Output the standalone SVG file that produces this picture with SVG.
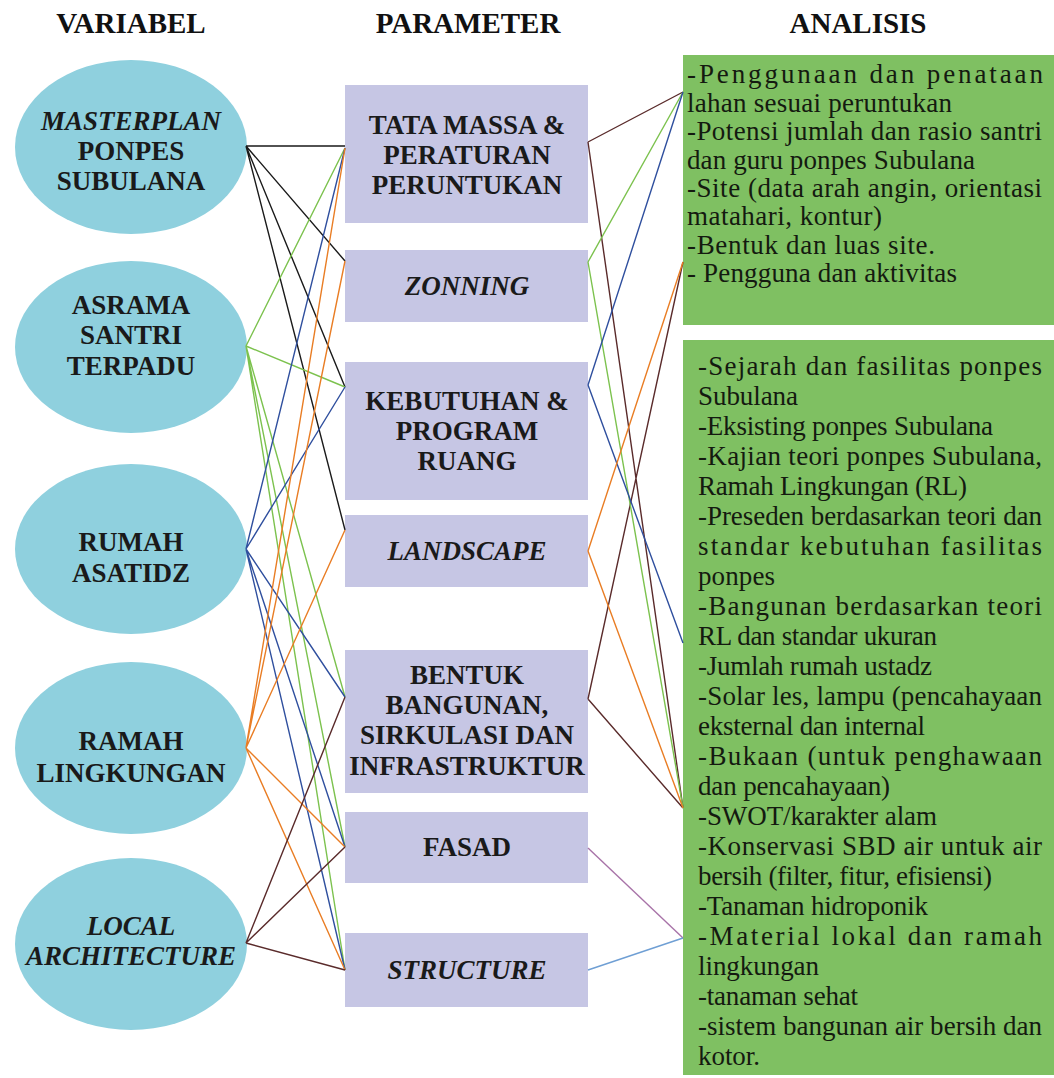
<svg xmlns="http://www.w3.org/2000/svg" width="1054" height="1078" viewBox="0 0 1054 1078">
<style>
.hdr{font-family:"Liberation Serif","Times New Roman",serif;font-weight:bold;font-size:29px;fill:#111;text-anchor:middle}
.ell{fill:#8fd0de}
.et{font-family:"Liberation Serif","Times New Roman",serif;font-weight:bold;font-size:27px;fill:#1a1a1a;text-anchor:middle}
.it{font-style:italic}
.box{fill:#c6c6e4}
.bt{font-family:"Liberation Serif","Times New Roman",serif;font-weight:bold;font-size:27px;fill:#1a1a1a;text-anchor:middle}
.an{fill:#7fc062}
.at{font-family:"Liberation Serif","Times New Roman",serif;font-size:27px;fill:#141a10}
.c{fill:none;stroke-width:1.4}
.k{stroke:#1a1a1a}.g{stroke:#7cc24e}.b{stroke:#2f4f9e}.o{stroke:#e97d24}.r{stroke:#5a2b2b}.p{stroke:#a873a8}.l{stroke:#6f9fd4}
</style>
<rect width="1054" height="1078" fill="#ffffff"/>
<g id="headers">
<text class="hdr" x="131" y="33">VARIABEL</text>
<text class="hdr" x="468" y="33">PARAMETER</text>
<text class="hdr" x="858" y="33">ANALISIS</text>
</g>
<g id="var-masterplan">
<ellipse class="ell" cx="131" cy="147" rx="116" ry="87"/>
<text class="et it" x="131" y="130">MASTERPLAN</text>
<text class="et" x="131" y="160">PONPES</text>
<text class="et" x="131" y="190">SUBULANA</text>
</g>
<g id="var-asrama">
<ellipse class="ell" cx="131" cy="347" rx="116" ry="86"/>
<text class="et" x="131" y="314">ASRAMA</text>
<text class="et" x="131" y="344">SANTRI</text>
<text class="et" x="131" y="375">TERPADU</text>
</g>
<g id="var-rumah">
<ellipse class="ell" cx="131" cy="549" rx="116" ry="85"/>
<text class="et" x="131" y="551">RUMAH</text>
<text class="et" x="131" y="582">ASATIDZ</text>
</g>
<g id="var-ramah">
<ellipse class="ell" cx="131" cy="748" rx="116" ry="86"/>
<text class="et" x="131" y="750">RAMAH</text>
<text class="et" x="131" y="782">LINGKUNGAN</text>
</g>
<g id="var-local">
<ellipse class="ell" cx="131" cy="944" rx="116" ry="86"/>
<text class="et it" x="131" y="935">LOCAL</text>
<text class="et it" x="131" y="965">ARCHITECTURE</text>
</g>
<g id="par-tatamassa">
<rect class="box" x="345" y="85" width="243" height="138"/>
<text class="bt" x="467" y="134">TATA MASSA &amp;</text>
<text class="bt" x="467" y="164">PERATURAN</text>
<text class="bt" x="467" y="194">PERUNTUKAN</text>
</g>
<g id="par-zonning">
<rect class="box" x="345" y="250" width="243" height="72"/>
<text class="bt it" x="467" y="295">ZONNING</text>
</g>
<g id="par-kebutuhan">
<rect class="box" x="345" y="362" width="243" height="138"/>
<text class="bt" x="467" y="410">KEBUTUHAN &amp;</text>
<text class="bt" x="467" y="440">PROGRAM</text>
<text class="bt" x="467" y="470">RUANG</text>
</g>
<g id="par-landscape">
<rect class="box" x="345" y="515" width="243" height="72"/>
<text class="bt it" x="467" y="560">LANDSCAPE</text>
</g>
<g id="par-bentuk">
<rect class="box" x="345" y="650" width="243" height="143"/>
<text class="bt" x="467" y="684">BENTUK</text>
<text class="bt" x="467" y="714">BANGUNAN,</text>
<text class="bt" x="467" y="744">SIRKULASI DAN</text>
<text class="bt" x="467" y="775">INFRASTRUKTUR</text>
</g>
<g id="par-fasad">
<rect class="box" x="345" y="812" width="243" height="71"/>
<text class="bt" x="467" y="856">FASAD</text>
</g>
<g id="par-structure">
<rect class="box" x="345" y="933" width="243" height="74"/>
<text class="bt it" x="467" y="979">STRUCTURE</text>
</g>
<g id="ana-1">
<rect class="an" x="683" y="55" width="371" height="270"/>
<text class="at" x="687" y="83" textLength="356" lengthAdjust="spacing">-Penggunaan dan penataan</text>
<text class="at" x="687" y="111.5" textLength="265" lengthAdjust="spacing">lahan sesuai peruntukan</text>
<text class="at" x="687" y="140" textLength="355" lengthAdjust="spacing">-Potensi jumlah dan rasio santri</text>
<text class="at" x="687" y="168.5" textLength="288" lengthAdjust="spacing">dan guru ponpes Subulana</text>
<text class="at" x="687" y="197" textLength="355" lengthAdjust="spacing">-Site (data arah angin, orientasi</text>
<text class="at" x="687" y="225" textLength="195" lengthAdjust="spacing">matahari, kontur)</text>
<text class="at" x="687" y="253.5" textLength="248" lengthAdjust="spacing">-Bentuk dan luas site.</text>
<text class="at" x="687" y="282" textLength="270" lengthAdjust="spacing">- Pengguna dan aktivitas</text>
</g>
<g id="ana-2">
<rect class="an" x="683" y="340" width="371" height="735"/>
<text class="at" x="698" y="375" textLength="344" lengthAdjust="spacing">-Sejarah dan fasilitas ponpes</text>
<text class="at" x="698" y="405" textLength="100" lengthAdjust="spacing">Subulana</text>
<text class="at" x="698" y="435" textLength="295" lengthAdjust="spacing">-Eksisting ponpes Subulana</text>
<text class="at" x="698" y="465" textLength="344" lengthAdjust="spacing">-Kajian teori ponpes Subulana,</text>
<text class="at" x="698" y="495" textLength="269" lengthAdjust="spacing">Ramah Lingkungan (RL)</text>
<text class="at" x="698" y="525" textLength="344" lengthAdjust="spacing">-Preseden berdasarkan teori dan</text>
<text class="at" x="698" y="555" textLength="344" lengthAdjust="spacing">standar kebutuhan fasilitas</text>
<text class="at" x="698" y="585" textLength="77" lengthAdjust="spacing">ponpes</text>
<text class="at" x="698" y="615" textLength="344" lengthAdjust="spacing">-Bangunan berdasarkan teori</text>
<text class="at" x="698" y="645" textLength="239" lengthAdjust="spacing">RL dan standar ukuran</text>
<text class="at" x="698" y="675" textLength="234" lengthAdjust="spacing">-Jumlah rumah ustadz</text>
<text class="at" x="698" y="705" textLength="344" lengthAdjust="spacing">-Solar les, lampu (pencahayaan</text>
<text class="at" x="698" y="735" textLength="227" lengthAdjust="spacing">eksternal dan internal</text>
<text class="at" x="698" y="765" textLength="344" lengthAdjust="spacing">-Bukaan (untuk penghawaan</text>
<text class="at" x="698" y="795" textLength="192" lengthAdjust="spacing">dan pencahayaan)</text>
<text class="at" x="698" y="825" textLength="239" lengthAdjust="spacing">-SWOT/karakter alam</text>
<text class="at" x="698" y="855" textLength="344" lengthAdjust="spacing">-Konservasi SBD air untuk air</text>
<text class="at" x="698" y="885" textLength="294" lengthAdjust="spacing">bersih (filter, fitur, efisiensi)</text>
<text class="at" x="698" y="915" textLength="230" lengthAdjust="spacing">-Tanaman hidroponik</text>
<text class="at" x="698" y="945" textLength="344" lengthAdjust="spacing">-Material lokal dan ramah</text>
<text class="at" x="698" y="975" textLength="121" lengthAdjust="spacing">lingkungan</text>
<text class="at" x="698" y="1005" textLength="160" lengthAdjust="spacing">-tanaman sehat</text>
<text class="at" x="698" y="1035" textLength="344" lengthAdjust="spacing">-sistem bangunan air bersih dan</text>
<text class="at" x="698" y="1065" textLength="62" lengthAdjust="spacing">kotor.</text>
</g>
<g id="connectors">
<path class="c k" d="M246,146 L345,146 M246,146 L345,261 M246,146 L345,387 M246,146 L345,530"/>
<path class="c g" d="M246,346 L345,148 M246,346 L345,387 M246,346 L345,697 M246,346 L345,847 M246,346 L345,970"/>
<path class="c b" d="M246,549 L345,148 M246,549 L345,387 M246,549 L345,697 M246,549 L345,847 M246,549 L345,970"/>
<path class="c o" d="M246,748 L345,148 M246,748 L345,261 M246,748 L345,530 M246,748 L345,847 M246,748 L345,970"/>
<path class="c r" d="M246,943 L345,697 M246,943 L345,847 M246,943 L345,970"/>
<path class="c r" d="M588,142 L683,92 M588,142 L683,808 M588,699 L683,262 M588,699 L683,808"/>
<path class="c g" d="M588,262 L683,92 M588,262 L683,808"/>
<path class="c b" d="M588,385 L683,92 M588,385 L683,643"/>
<path class="c o" d="M588,551 L683,262 M588,551 L683,808"/>
<path class="c p" d="M588,848 L683,938"/>
<path class="c l" d="M588,970 L683,938"/>
</g>
</svg>
